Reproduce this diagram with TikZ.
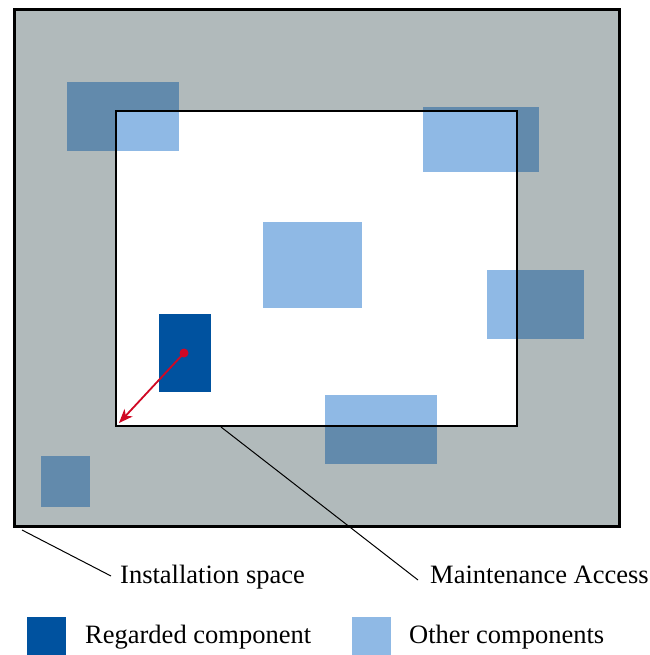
\documentclass[tikz,border=0pt]{standalone}
\usepackage{fontspec}
\setmainfont{Liberation Serif}
\usetikzlibrary{arrows.meta}
\definecolor{spacegray}{RGB}{177,186,187}
\definecolor{compdark}{RGB}{98,138,172}
\definecolor{complight}{RGB}{143,185,229}
\definecolor{regarded}{RGB}{0,82,159}
\definecolor{pointred}{RGB}{208,8,36}
\begin{document}
\begin{tikzpicture}[x=1pt,y=-1pt,
  box/.style={anchor=north west,inner sep=0pt,outer sep=0pt,draw=none},
  label/.style={anchor=base west,inner sep=0pt,font=\fontsize{26.5}{30}\selectfont},
  leader/.style={line width=1pt,black}]
\useasboundingbox (0,0) rectangle (649,655);
% installation space and maintenance access area
\node[box,fill=spacegray,minimum width=605pt,minimum height=516pt] (space) at (14,10) {};
\node[box,fill=white,minimum width=401pt,minimum height=315pt] (access) at (116,111) {};
% other components: dark where they lie outside the access area
\def\comps{%
  \node[box,minimum width=112pt,minimum height=69pt] (c1) at (67,82) {};
  \node[box,minimum width=116pt,minimum height=65pt] (c2) at (423,107) {};
  \node[box,minimum width=99pt,minimum height=86pt] (c3) at (263,222) {};
  \node[box,minimum width=97pt,minimum height=69pt] (c4) at (487,270) {};
  \node[box,minimum width=112pt,minimum height=69pt] (c5) at (325,395) {};
  \node[box,minimum width=49pt,minimum height=51pt] (c6) at (41,456) {};
}
\begin{scope}[every node/.append style={fill=compdark}]
  \comps
\end{scope}
\begin{scope}[every node/.append style={fill=complight}]
  \clip (116,111) rectangle (517,426);
  \comps
\end{scope}
% regarded component
\node[box,fill=regarded,minimum width=52pt,minimum height=78pt] (reg) at (159,314) {};
% frames
\draw[line width=3pt] (space.north west) rectangle (space.south east);
\draw[line width=2.8pt] (access.north west) rectangle (access.south east);
% displacement of the regarded component
\coordinate (dot) at (184,353);
\coordinate (tip) at (119,423);
\fill[pointred] (dot) circle (4.5pt);
\draw[pointred,line width=1.8pt,-{Stealth[length=14pt,width=11pt,inset=4pt]}] (dot) -- (tip);
% labels and leader lines
\node[label] (lspace) at (120,583) {Installation space};
\node[label] (laccess) at (430,583) {Maintenance Access};
\coordinate (spaceend) at (22,530);
\coordinate (accessend) at (221,427);
\draw[leader] (spaceend) -- (111,576);
\draw[leader] (accessend) -- (418,580);
% legend
\node[box,fill=regarded,minimum width=39pt,minimum height=38pt] (legreg) at (27,617) {};
\node[label] (lreg) at (85,643) {Regarded component};
\node[box,fill=complight,minimum width=39pt,minimum height=38pt] (legoth) at (352,617) {};
\node[label] (loth) at (409,643) {Other components};
\end{tikzpicture}
\end{document}
